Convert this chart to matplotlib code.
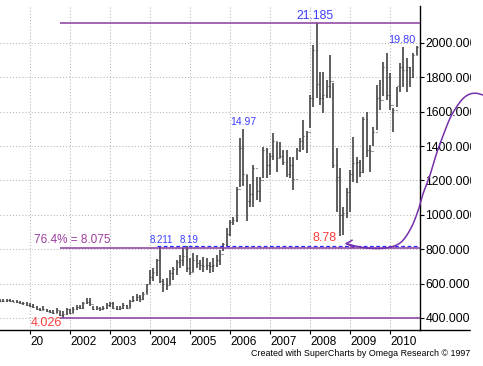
import numpy as np
import matplotlib
matplotlib.use("Agg")
import matplotlib.pyplot as plt
from matplotlib.lines import Line2D
from matplotlib.patches import Rectangle

plt.rcParams['font.family'] = ['Liberation Sans', 'DejaVu Sans']

# monthly bars, Apr 2000 .. Sep 2010 (price x 100)
start = 2000 + 3 / 12.0
highs = [510, 508, 510, 508, 505, 502, 498, 494, 490,
         487, 480, 468, 458, 470, 452, 448, 444, 458, 440, 440, 460,
         455, 462, 475, 478, 490, 515, 515, 470, 468, 465, 470, 485,
         492, 490, 470, 468, 485, 478, 505, 525, 540, 535, 550, 600,
         680, 690, 745, 821, 625, 632, 680, 698, 737, 767, 807, 819,
         749, 778, 767, 737, 757, 749, 727, 749, 767, 796, 838, 925,
         970, 990, 1160, 1449, 1497, 1231, 1178, 1290, 1222, 1222, 1397, 1389,
         1360, 1477, 1426, 1426, 1377, 1377, 1338, 1338, 1389, 1447, 1552, 1486,
         1697, 1988, 2118.5, 1833, 1833, 1785, 1930, 1765, 1387, 1271, 1048, 1155,
         1261, 1455, 1338, 1319, 1571, 1600, 1406, 1513, 1756, 1785, 1891, 1940,
         1824, 1622, 1746, 1882, 1979, 1911, 1862, 1940, 1985]
lows = [495, 492, 495, 493, 490, 488, 482, 478, 472,
        466, 460, 444, 438, 448, 433, 428, 424, 428, 412, 402.6, 420,
        425, 430, 445, 450, 455, 480, 470, 445, 445, 440, 445, 455,
        465, 455, 445, 445, 455, 450, 460, 490, 500, 495, 505, 540,
        595, 615, 645, 605, 553, 563, 590, 620, 650, 690, 700, 670,
        650, 670, 690, 680, 670, 680, 660, 670, 698, 708, 790, 820,
        875, 940, 960, 1160, 1165, 962, 1048, 1044, 1087, 1077, 1213, 1215,
        1232, 1320, 1252, 1329, 1290, 1222, 1213, 1145, 1320, 1368, 1377, 1358,
        1503, 1629, 1678, 1639, 1591, 1678, 1678, 1271, 1019, 878, 883, 980,
        1019, 1193, 1184, 1222, 1242, 1338, 1251, 1400, 1494, 1610, 1689, 1668,
        1610, 1484, 1629, 1717, 1746, 1717, 1746, 1795, 1930]
closes = [500, 500, 503, 498, 495, 493, 488, 485, 478,
          470, 465, 450, 445, 455, 440, 432, 430, 445, 420, 425, 450,
          430, 450, 465, 460, 485, 495, 480, 455, 460, 450, 460, 478,
          485, 460, 455, 460, 475, 458, 500, 505, 520, 510, 540, 595,
          640, 670, 735, 615, 600, 590, 660, 685, 725, 740, 760, 690,
          670, 740, 720, 710, 700, 710, 700, 710, 740, 770, 830, 890,
          960, 970, 1150, 1390, 1240, 1080, 1120, 1270, 1140, 1200, 1380, 1290,
          1340, 1430, 1330, 1340, 1310, 1240, 1290, 1210, 1380, 1430, 1460, 1480,
          1680, 1960, 1760, 1680, 1700, 1750, 1780, 1290, 1220, 1000, 1010, 1130,
          1240, 1300, 1310, 1250, 1560, 1380, 1370, 1480, 1680, 1670, 1860, 1700,
          1640, 1610, 1750, 1860, 1840, 1860, 1800, 1930, 1975]

years = list(range(2001, 2011))
year_labels = ['20'] + [str(y) for y in years[1:]]
yticks = list(range(400, 2001, 200))

top_level = 2118.5      # 21.185
fib_level = 807.5       # 76.4% = 8.075
low_level = 402.6       # 4.026
res_level = 819         # 8.19 dashed

W, H = 483, 366
fig = plt.figure(figsize=(W / 100, H / 100), dpi=100)
ax = fig.add_axes([0, 36 / H, 420 / W, 324 / H])

t = start + np.arange(len(highs)) / 12.0
highs = np.array(highs, float)
lows = np.array(lows, float)
closes = np.array(closes, float)
opens = np.concatenate([[closes[0]], closes[:-1]])

bar_col = '#444444'
ax.vlines(t, lows, highs, color=bar_col, lw=1.2, zorder=3)
ax.hlines(opens, t - 0.028, t, color=bar_col, lw=0.8, zorder=3)
ax.hlines(closes, t, t + 0.028, color=bar_col, lw=0.8, zorder=3)

ax.set_xlim(2000.25, 2010.75)
ax.set_ylim(330, 2215)

# grid
for y in yticks:
    ax.axhline(y, color='#b4b4b4', lw=0.75, ls=(0, (1, 2)), zorder=1)
for x in years:
    ax.axvline(x, color='#b4b4b4', lw=0.75, ls=(0, (1, 2)), zorder=1)

purple = '#8a3a9e'
ax.hlines([top_level, fib_level, low_level], 2001.75, 2010.75, color=purple, lw=1.1, zorder=4)
ax.hlines(res_level, 2004.18, 2010.75, color='#2a2aff', lw=0.9, ls=(0, (3, 2)), zorder=5)

blue = '#3c3cff'
red = '#ff3c3c'
ax.text(2008.125, 2157, '21.185', color=blue, fontsize=8.8, ha='center', va='center')
ax.text(2010.3, 2015, '19.80', color=blue, fontsize=7.8, ha='center', va='center')
ax.text(2006.34, 1543, '14.97', color=blue, fontsize=7.5, ha='center', va='center')
ax.text(2004.275, 855, '8.211', color=blue, fontsize=7, ha='center', va='center')
ax.text(2004.975, 855, '8.19', color=blue, fontsize=7, ha='center', va='center')
ax.text(2008.375, 867, '8.78', color=red, fontsize=9, ha='center', va='center')
ax.text(2001.4, 369, '4.026', color=red, fontsize=9, ha='center', va='center')
ax.text(2002.05, 854, '76.4% = 8.075', color='#9c3ca0', fontsize=8.5, ha='center', va='center')

# axes
for s in ['left', 'top']:
    ax.spines[s].set_visible(False)
ax.spines['right'].set_linewidth(1.0)
ax.spines['bottom'].set_linewidth(1.0)
ax.yaxis.tick_right()
ax.set_yticks(yticks)
ax.set_yticklabels(['%.3f' % v for v in yticks])
ax.set_xticks(years)
ax.set_xticklabels(year_labels)
for lab in ax.get_xticklabels():
    lab.set_horizontalalignment('left')
ax.tick_params(axis='y', direction='out', length=3, pad=1, labelsize=8.8)
ax.tick_params(axis='x', direction='out', length=3, pad=1.5, labelsize=8.5)

# bottom line runs on past the price axis
fig.add_artist(Line2D([420 / W, 470 / W], [1 - 330 / H, 1 - 330 / H], color='black', lw=1.0,
                      transform=fig.transFigure))
# labels are cut at the right
fig.add_artist(Rectangle((471 / W, 1 - 340 / H), 12 / W, 340 / H, color='white',
                         transform=fig.transFigure, zorder=2))

# hand-drawn curved arrow (pixel coords)
pts = [(483, 95), (476.7, 93.3), (470, 94), (463.3, 98.3), (456.7, 106.7), (450, 118.3),
       (443.3, 135), (436.7, 153), (430, 175), (423.3, 193), (418.3, 210), (411.7, 226.7),
       (403.3, 240), (395, 245.7), (383.3, 248.3), (370, 248.3), (358.3, 246.7), (347, 243.8)]


def smooth(p, n=8):
    p = np.array(p, float)
    p = np.vstack([p[0], p, p[-1]])
    out = []
    for i in range(1, len(p) - 2):
        p0, p1, p2, p3 = p[i - 1], p[i], p[i + 1], p[i + 2]
        for s in np.linspace(0, 1, n, endpoint=False):
            out.append(0.5 * (2 * p1 + (-p0 + p2) * s + (2 * p0 - 5 * p1 + 4 * p2 - p3) * s * s
                              + (-p0 + 3 * p1 - 3 * p2 + p3) * s ** 3))
    out.append(p[-2])
    return np.array(out)


c = smooth(pts)
curve_col = '#7530aa'
fig.add_artist(Line2D(c[:, 0] / W, 1 - c[:, 1] / H, color=curve_col, lw=1.1,
                      transform=fig.transFigure, zorder=3))
tip = (346.5, 243.5)
for bx, by in [(352, 240.3), (353, 247.2)]:
    fig.add_artist(Line2D([tip[0] / W, bx / W], [1 - tip[1] / H, 1 - by / H], color=curve_col,
                          lw=1.1, transform=fig.transFigure, zorder=3))

fig.text(470 / W, 1 - 354 / H, 'Created with SuperCharts by Omega Research \u00a9 1997',
         ha='right', va='center', fontsize=6.4)

fig.savefig('out.png', dpi=100)
